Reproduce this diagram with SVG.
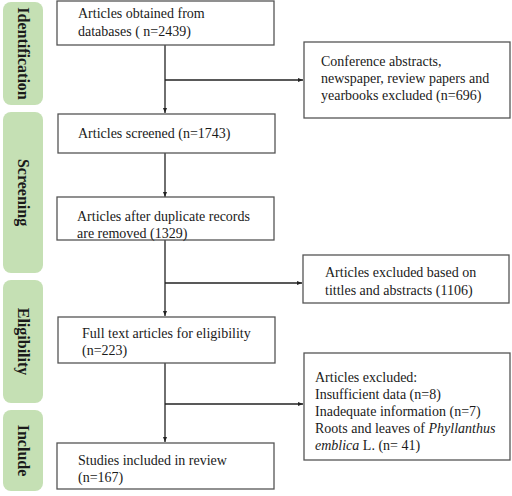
<svg xmlns="http://www.w3.org/2000/svg" width="512" height="496" viewBox="0 0 512 496">
<defs>
<marker id="ah" markerWidth="6" markerHeight="6" refX="5" refY="3" orient="auto" markerUnits="userSpaceOnUse"><path d="M0,1 L5,3 L0,5 Z" fill="#222"/></marker>
<style>
.stage{fill:#c5e0b4;stroke:none}
.stxt{font-weight:bold;font-size:16px;fill:#1a1a1a;text-anchor:middle;dominant-baseline:central}
.box{fill:#fff;stroke:#555;stroke-width:1.3}
.t{font-size:14px;fill:#1a1a1a}
.ln{stroke:#222;stroke-width:1.3;fill:none}
</style>
</defs>
<rect width="512" height="496" fill="#fff"/>
<g font-family="Liberation Serif, Times New Roman, serif">
<g id="stage-identification"><rect class="stage" x="3" y="2" width="40" height="103" rx="8"/><text class="stxt" transform="translate(23,53.5) rotate(90)">Identification</text></g>
<g id="stage-screening"><rect class="stage" x="3" y="112" width="40" height="161" rx="8"/><text class="stxt" transform="translate(23,192.5) rotate(90)">Screening</text></g>
<g id="stage-eligibility"><rect class="stage" x="3" y="280" width="40" height="123" rx="8"/><text class="stxt" transform="translate(23,341.5) rotate(90)">Eligibility</text></g>
<g id="stage-include"><rect class="stage" x="3" y="410" width="40" height="81" rx="8"/><text class="stxt" transform="translate(23,450.5) rotate(90)">Include</text></g>

<g id="connectors">
<line class="ln" x1="165" y1="45" x2="165" y2="113" marker-end="url(#ah)"/>
<line class="ln" x1="165" y1="80" x2="303" y2="80" marker-end="url(#ah)"/>
<line class="ln" x1="165" y1="153" x2="165" y2="197" marker-end="url(#ah)"/>
<line class="ln" x1="165" y1="240" x2="165" y2="316" marker-end="url(#ah)"/>
<line class="ln" x1="165" y1="283" x2="302" y2="283" marker-end="url(#ah)"/>
<line class="ln" x1="165" y1="363" x2="165" y2="442" marker-end="url(#ah)"/>
<line class="ln" x1="165" y1="404" x2="303" y2="404" marker-end="url(#ah)"/>
</g>

<g id="box-obtained"><rect class="box" x="57" y="1" width="217" height="44"/><text class="t" x="78" y="18">Articles obtained from</text><text class="t" x="78" y="36">databases ( n=2439)</text></g>
<g id="box-excluded1"><rect class="box" x="304" y="42" width="206" height="76"/><text class="t" x="321" y="66">Conference abstracts,</text><text class="t" x="321" y="83">newspaper, review papers and</text><text class="t" x="321" y="100">yearbooks excluded (n=696)</text></g>
<g id="box-screened"><rect class="box" x="58" y="114" width="217" height="39"/><text class="t" x="78" y="138">Articles screened (n=1743)</text></g>
<g id="box-duplicates"><rect class="box" x="57" y="197" width="217" height="43"/><text class="t" x="77" y="221">Articles after duplicate records</text><text class="t" x="77" y="238">are removed (1329)</text></g>
<g id="box-excluded2"><rect class="box" x="303" y="255" width="206" height="48"/><text class="t" x="325" y="277">Articles excluded based on</text><text class="t" x="325" y="295">tittles and abstracts (1106)</text></g>
<g id="box-fulltext"><rect class="box" x="58" y="317" width="217" height="46"/><text class="t" x="82" y="338">Full text articles for eligibility</text><text class="t" x="82" y="355">(n=223)</text></g>
<g id="box-excluded3"><rect class="box" x="304" y="353" width="206" height="107"/><text class="t" x="315" y="382">Articles excluded:</text><text class="t" x="315" y="399">Insufficient data (n=8)</text><text class="t" x="315" y="416">Inadequate information (n=7)</text><text class="t" x="315" y="433">Roots and leaves of <tspan font-style="italic">Phyllanthus</tspan></text><text class="t" x="315" y="450"><tspan font-style="italic">emblica</tspan> L. (n= 41)</text></g>
<g id="box-included"><rect class="box" x="57" y="443" width="217" height="46"/><text class="t" x="78" y="465">Studies included in review</text><text class="t" x="78" y="482">(n=167)</text></g>
</g>
</svg>
